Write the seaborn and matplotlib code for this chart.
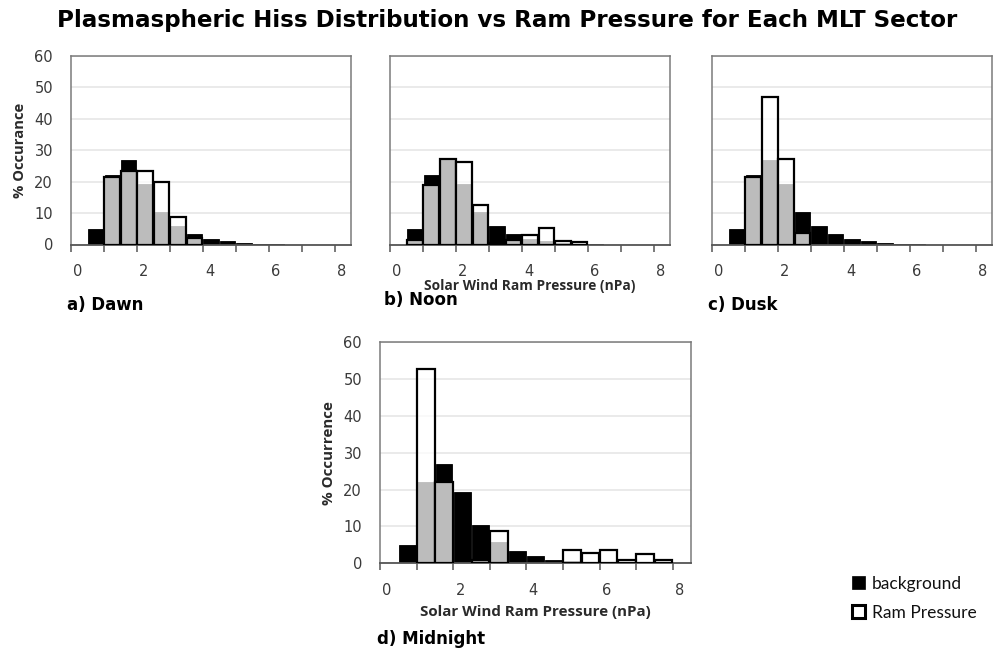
import numpy as np
import pandas as pd
import matplotlib
matplotlib.use("Agg")
import matplotlib.pyplot as plt
import matplotlib.transforms as mtransforms
from matplotlib.patches import Patch
import seaborn as sns

# ---------------- data ----------------
bin_centers = [0.75, 1.25, 1.75, 2.25, 2.75, 3.25, 3.75, 4.25, 4.75, 5.25, 5.75, 6.25, 6.75, 7.25, 7.75]
background = [4.9, 22.0, 27.0, 19.4, 10.5, 5.9, 3.3, 1.9, 1.0, 0.5, 0.3, 0.15, 0, 0, 0]
ram_dawn = [0, 21.4, 23.3, 23.5, 20.0, 8.7, 2.2, 0, 0, 0, 0, 0, 0, 0, 0]
ram_noon = [1.3, 19.0, 27.3, 26.4, 12.7, 0.6, 1.4, 2.9, 5.3, 1.0, 0.8, 0, 0, 0, 0]
ram_dusk = [0, 21.5, 46.9, 27.2, 3.7, 0, 0, 0, 0, 0, 0, 0, 0, 0, 0]
ram_midnight = [0, 52.8, 22.1, 0, 1.0, 8.7, 0, 0, 0, 3.6, 2.9, 3.7, 0.8, 2.4, 0.9]
x_tick_values = [0, 1, 2, 3, 4, 5, 6, 7, 8]
x_tick_labels = ["0", "", "2", "", "4", "", "6", "", "8"]
y_ticks = [0, 10, 20, 30, 40, 50, 60]

title = "Plasmaspheric Hiss Distribution vs Ram Pressure for Each MLT Sector"
panel_names = ["a) Dawn", "b) Noon", "c) Dusk", "d) Midnight"]
xlabel = "Solar Wind Ram Pressure (nPa)"
legend_labels = ["background", "Ram Pressure"]

# ---------------- style ----------------
sns.set_theme(style="white")
plt.rcParams["font.family"] = ["DejaVu Sans"]

W, H = 1000, 651
fig = plt.figure(figsize=(W / 100, H / 100), dpi=100)


def px_axes(left, right, top, bottom):
    return fig.add_axes([left / W, 1 - bottom / H, (right - left) / W, (bottom - top) / H])


FRAME = "#7a7a7a"
GRID = "#e6e6e6"
TXT = "#3a3a3a"
LABEL_FONT = {"family": "Open Sans", "weight": "bold", "color": "#2a2a2a"}


def draw_panel(ax, ram, show_ylabels, ylabel=None, ylabel_size=10.0):
    df_bg = pd.DataFrame({"p": bin_centers, "v": background})
    df_bg = df_bg[df_bg.v > 0]
    df_rm = pd.DataFrame({"p": bin_centers, "v": ram})
    df_rm = df_rm[df_rm.v > 0]
    sns.barplot(data=df_bg, x="p", y="v", native_scale=True, width=0.92,
                color="black", saturation=1, errorbar=None, ax=ax,
                edgecolor="black", linewidth=0.6, zorder=2)
    n_before = len(ax.patches)
    sns.barplot(data=df_rm, x="p", y="v", native_scale=True, width=0.96,
                color="white", saturation=1, errorbar=None, ax=ax,
                linewidth=1.6, zorder=3)
    for p in ax.patches[n_before:]:
        p.set_facecolor((1, 1, 1, 0.74))
        p.set_edgecolor("black")
        p.set_linewidth(1.6)
    ax.set_xlim(0, 8.5)
    ax.set_ylim(0, 60)
    ax.set_yticks(y_ticks)
    ax.yaxis.grid(True, color=GRID, linewidth=1.2, zorder=0)
    ax.xaxis.grid(False)
    ax.set_axisbelow(True)
    ax.set_xticks(x_tick_values)
    ax.set_xticklabels(x_tick_labels)
    ax.tick_params(axis="x", bottom=True, length=5, width=1.1, color="#555555",
                   pad=9, labelsize=10.5, labelcolor=TXT)
    ax.tick_params(axis="y", left=False, length=0, pad=13, labelsize=10.5, labelcolor=TXT)
    off = mtransforms.ScaledTranslation(0.07, 0, fig.dpi_scale_trans)
    for lab in ax.get_xticklabels():
        lab.set_transform(lab.get_transform() + off)
    if not show_ylabels:
        ax.set_yticklabels([])
    for s in ["top", "right", "left"]:
        ax.spines[s].set_color(FRAME)
        ax.spines[s].set_linewidth(1.1)
    ax.spines["bottom"].set_color("#555555")
    ax.spines["bottom"].set_linewidth(1.3)
    ax.set_xlabel("")
    ax.set_ylabel(ylabel if ylabel else "", fontsize=ylabel_size, labelpad=5, **LABEL_FONT)


ax_a = px_axes(71, 351, 56, 244.5)
ax_b = px_axes(390, 670, 56, 244.5)
ax_c = px_axes(712, 992, 56, 244.5)
ax_d = px_axes(380, 691, 342, 563.3)

draw_panel(ax_a, ram_dawn, True, "% Occurance", 10.6)
draw_panel(ax_b, ram_noon, False)
draw_panel(ax_c, ram_dusk, False)
draw_panel(ax_d, ram_midnight, True, "% Occurrence", 10.9)

ax_b.set_xlabel(xlabel, fontsize=9.9, labelpad=0, **LABEL_FONT)
ax_d.set_xlabel(xlabel, fontsize=10.9, labelpad=5, **LABEL_FONT)

fig.text(507 / W, 1 - 21 / H, title, ha="center", va="center",
         fontsize=16.6, fontweight="bold", color="black")

for name, (x, y) in zip(panel_names, [(67, 305), (384, 300), (708, 305), (377, 639)]):
    fig.text(x / W, 1 - y / H, name, ha="left", va="center", fontsize=12,
             fontweight="bold", color="black")

handles = [Patch(facecolor="black", edgecolor="black", linewidth=0.5),
           Patch(facecolor="white", edgecolor="black", linewidth=2.2)]
fig.legend(handles, legend_labels, loc="upper left", bbox_to_anchor=(836 / W, 1 - 560 / H),
           frameon=False, handlelength=0.75, handleheight=0.75, handletextpad=0.4,
           labelspacing=0.75, prop={"family": "Lato", "size": 12.5}, labelcolor="#111111")

fig.savefig("out.png", dpi=100)
